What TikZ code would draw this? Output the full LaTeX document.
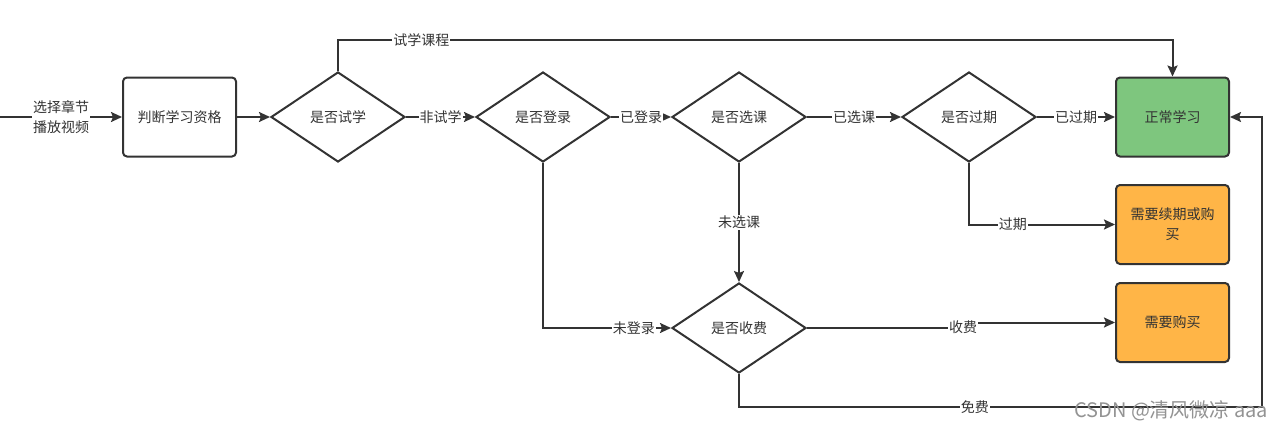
\documentclass[tikz,border=0pt]{standalone}
\usepackage{fontspec}
\newfontfamily\cjk{Noto Sans CJK SC}
\usetikzlibrary{shapes.geometric,arrows.meta}
\definecolor{ink}{HTML}{333333}
\definecolor{okgreen}{RGB}{126,198,126}
\definecolor{warnorange}{RGB}{255,181,71}
\begin{document}
\begin{tikzpicture}[x=1pt,y=-1pt,
  every node/.style={font=\cjk\fontsize{14}{20}\selectfont, text=ink},
  proc/.style={draw=ink, line width=2pt, rounded corners=4pt, minimum width=113pt, minimum height=79pt, inner sep=2pt, align=center},
  dec/.style={diamond, draw=ink, line width=2pt, minimum width=134pt, minimum height=90pt, inner sep=0pt, aspect=1.49},
  arr/.style={draw=ink, line width=2pt, -{Stealth[length=11pt,width=10pt,inset=2pt]}},
  lbl/.style={fill=white, inner sep=1pt, align=center}
]
\useasboundingbox (0,0) rectangle (1280,431);
\coordinate (start) at (0,117);
\node[proc] (judge) at (179.5,117) {判断学习资格};
\node[dec] (trial) at (338,117) {是否试学};
\node[dec] (login) at (543,117) {是否登录};
\node[dec] (chosen) at (739,117) {是否选课};
\node[dec] (expire) at (969,117) {是否过期};
\node[dec] (fee) at (739,328) {是否收费};
\node[proc, fill=okgreen] (study) at (1172.5,117) {正常学习};
\node[proc, fill=warnorange] (renew) at (1172.5,224.5) {需要续期或购\\买};
\node[proc, fill=warnorange] (buy) at (1172.5,322.5) {需要购买};

\draw[arr] (start) -- node[lbl]{选择章节\\播放视频} (judge);
\draw[arr] (judge) -- (trial);
\draw[arr] (trial) -- node[lbl]{非试学} (login);
\draw[arr] (login) -- node[lbl]{已登录} (chosen);
\draw[arr] (chosen) -- node[lbl]{已选课} (expire);
\draw[arr] (expire) -- node[lbl]{已过期} (study);
\draw[arr] (trial.north) -- (trial.north |- 0,40) -- node[lbl,pos=0.1]{试学课程} (study.north |- 0,40) -- (study.north);
\draw[arr] (expire.south) |- node[lbl,pos=0.65]{过期} (renew.west);
\draw[arr] (login.south) |- node[lbl,pos=0.855]{未登录} (fee.west);
\draw[arr] (chosen.south) -- node[lbl]{未选课} (fee.north);
\draw[arr] (fee.east) -- (963,328) -- (963,322.5) -- (buy.west);
\node[lbl] (lblfee) at (963,327) {收费};
\draw[arr] (fee.south) -- (fee.south |- 0,407) -- node[lbl,pos=0.451]{免费} (1262,407) -- (1262,117) -- (study.east);
\node[anchor=west, text=gray!85, font=\cjk\fontsize{20}{20}\selectfont, inner sep=0pt] (wm) at (1074,411) {CSDN @清风微凉 aaa};
\end{tikzpicture}
\end{document}
